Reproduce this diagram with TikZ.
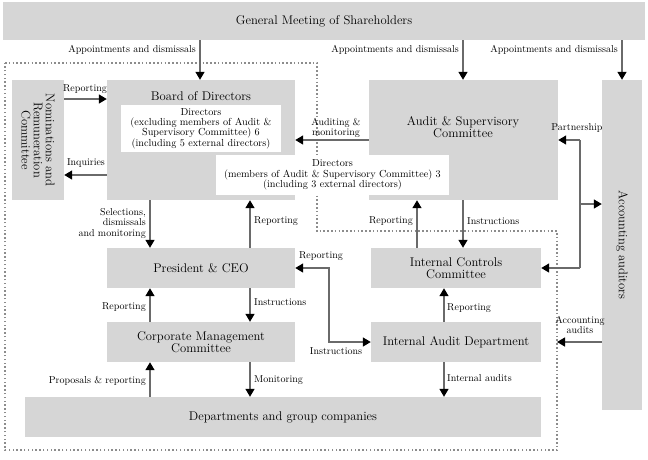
\documentclass[tikz,border=0pt]{standalone}
\usepackage{tikz}
\usetikzlibrary{arrows.meta}
\definecolor{BoxGray}{HTML}{D6D6D6}
\definecolor{LineGray}{HTML}{6A6A6A}
\definecolor{DotGray}{HTML}{8C8C8C}
\tikzset{
  box/.style={fill=BoxGray, inner sep=2pt, align=center, font=\fontsize{12.6}{12.2}\selectfont},
  whitebox/.style={fill=white, inner sep=2pt, align=center, font=\fontsize{10.2}{10.4}\selectfont},
  lbl/.style={inner sep=1pt, align=center, font=\fontsize{10}{10.5}\selectfont},
  arr/.style={draw=LineGray, line width=1.4pt, -{Triangle[length=8pt,width=9pt,color=black]}},
  dbl/.style={draw=LineGray, line width=1.4pt, {Triangle[length=8pt,width=9pt,color=black]}-{Triangle[length=8pt,width=9pt,color=black]}},
}
\begin{document}
\begin{tikzpicture}[x=1pt,y=-1pt]
\useasboundingbox (0,0) rectangle (648,459);
% dotted frame
\draw[DotGray, line width=1.3pt, dash pattern=on 1.5pt off 2.3pt]
  (5,63) -- (317,63) -- (317,231) -- (557,231) -- (557,450) -- (5,450) -- cycle;

% boxes
\node[box, minimum width=642, minimum height=38] (gm) at (324,21) {General Meeting of Shareholders};
\node[box, minimum width=52, minimum height=120] (nom) at (38,140) {};
\node[box, rotate=-90, fill=none] (nomlbl) at (38,140) {Nominations and\\Remuneration\\Committee};
\node[box, minimum width=188, minimum height=120] (board) at (201,140) {};
\node[box, fill=none] (boardlbl) at (201,96) {Board of Directors};
\node[box, minimum width=189, minimum height=120] (audit) at (463.5,140) {};
\node[box, fill=none] (auditlbl) at (463,127) {Audit \& Supervisory\\Committee};
\node[whitebox, minimum width=160, minimum height=47] (dir1) at (201,128.5)
  {Directors\\(excluding members of Audit \&\\Supervisory Committee) 6\\(including 5 external directors)};
\node[whitebox, minimum width=233, minimum height=40] (dir2) at (332.5,175)
  {Directors\\(members of Audit \& Supervisory Committee) 3\\(including 3 external directors)};
\node[box, minimum width=40, minimum height=330] (acc) at (622,245) {};
\node[box, rotate=-90, fill=none] (acclbl) at (622,245) {Accounting auditors};
\node[box, minimum width=188, minimum height=40] (pres) at (201,268) {President \& CEO};
\node[box, minimum width=188, minimum height=40] (corp) at (201,342) {Corporate Management\\Committee};
\node[box, minimum width=516, minimum height=40] (dept) at (283,417) {Departments and group companies};
\node[box, minimum width=170, minimum height=40] (ictrl) at (456,268) {Internal Controls\\Committee};
\node[box, minimum width=170, minimum height=40] (iaud) at (456,342) {Internal Audit Department};

% columns and rows for the connectors
\coordinate (c150) at (150,0);
\coordinate (c200) at (200,0);
\coordinate (c250) at (250,0);
\coordinate (c417) at (417,0);
\coordinate (c444) at (444,0);
\coordinate (c463) at (463,0);
\coordinate (c622) at (622,0);
\coordinate (r99) at (0,99);
\coordinate (r140) at (0,140);
\coordinate (r175) at (0,175);
\coordinate (r342) at (0,342);
\coordinate (pt) at (580,140);
\coordinate (pm) at (580,204);
\coordinate (pb) at (580,268);
\coordinate (lk1) at (329,268);
\coordinate (lk2) at (329,342);
\coordinate (aa) at (557,342);

% connectors
\draw[arr] (gm.south -| c200) -- (board.north -| c200);
\draw[arr] (gm.south -| c463) -- (audit.north -| c463);
\draw[arr] (gm.south -| c622) -- (acc.north -| c622);
\draw[arr] (nom.east |- r99) -- (board.west |- r99);
\draw[arr] (board.west |- r175) -- (nom.east |- r175);
\draw[arr] (audit.west |- r140) -- (board.east |- r140);
\draw[arr] (board.south -| c150) -- (pres.north -| c150);
\draw[arr] (pres.north -| c250) -- (board.south -| c250);
\draw[arr] (ictrl.north -| c417) -- (audit.south -| c417);
\draw[arr] (audit.south -| c463) -- (ictrl.north -| c463);
\draw[draw=LineGray, line width=1.4pt] (pt) -- (pb);
\draw[arr] (pt) -- (audit.east |- pt);
\draw[arr] (pm) -- (acc.west |- pm);
\draw[arr] (pb) -- (ictrl.east |- pb);
\draw[dbl] (pres.east) -- (lk1) -- (lk2) -- (iaud.west);
\draw[arr] (pres.south -| c250) -- (corp.north -| c250);
\draw[arr] (corp.north -| c150) -- (pres.south -| c150);
\draw[arr] (dept.north -| c150) -- (corp.south -| c150);
\draw[arr] (corp.south -| c250) -- (dept.north -| c250);
\draw[arr] (iaud.north -| c444) -- (ictrl.south -| c444);
\draw[arr] (iaud.south -| c444) -- (dept.north -| c444);
\draw[arr] (acc.west |- r342) -- (aa);

% labels
\node[lbl, anchor=east] (l1) at (197,50) {Appointments and dismissals};
\node[lbl, anchor=east] (l2) at (460,50) {Appointments and dismissals};
\node[lbl, anchor=east] (l3) at (619,50) {Appointments and dismissals};
\node[lbl] (l4) at (85,89) {Reporting};
\node[lbl] (l5) at (86,163) {Inquiries};
\node[lbl] (l6) at (336,128) {Auditing \&\\monitoring};
\node[lbl] (l7) at (577,128) {Partnership};
\node[lbl, anchor=east, align=right] (l8) at (147,223) {Selections,\\dismissals\\and monitoring};
\node[lbl, anchor=west] (l9) at (253,221) {Reporting};
\node[lbl, anchor=east] (l10) at (414,221) {Reporting};
\node[lbl, anchor=west] (l11) at (466,221) {Instructions};
\node[lbl] (l12) at (321,256) {Reporting};
\node[lbl] (l13) at (336,351) {Instructions};
\node[lbl, anchor=east] (l14) at (147,307) {Reporting};
\node[lbl, anchor=west] (l15) at (253,302) {Instructions};
\node[lbl, anchor=east] (l16) at (147,381) {Proposals \& reporting};
\node[lbl, anchor=west] (l17) at (253,380) {Monitoring};
\node[lbl, anchor=west] (l18) at (446,308) {Reporting};
\node[lbl, anchor=west] (l19) at (446,378) {Internal audits};
\node[lbl] (l20) at (580,325) {Accounting\\audits};
\end{tikzpicture}
\end{document}
